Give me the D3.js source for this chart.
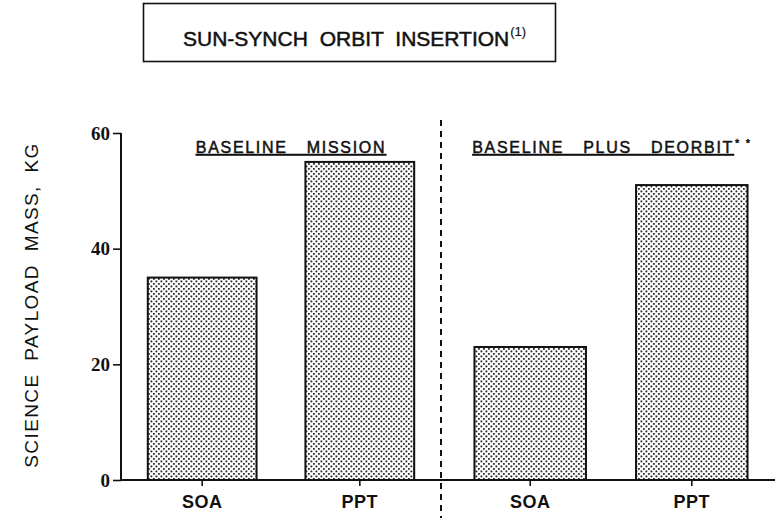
<!DOCTYPE html>
<html>
<head>
<meta charset="utf-8">
<script src="https://cdn.jsdelivr.net/npm/d3@7"></script>
<style>
  body { margin: 0; background: #fff; }
  svg { display: block; }
</style>
</head>
<body>
<svg width="778" height="518"></svg>
<script>
// data
var categories = ["SOA", "PPT"];
var panelTitles = ["BASELINE  MISSION", "BASELINE  PLUS  DEORBIT"];
var panelMarks = ["", "* *"];
var baselineMass = [35, 55];
var deorbitMass = [23, 51];
var yTicks = [0, 20, 40, 60];

var panels = [
  { title: panelTitles[0], mark: panelMarks[0], values: baselineMass },
  { title: panelTitles[1], mark: panelMarks[1], values: deorbitMass }
];

var svg = d3.select("svg");

// dotted fill like the scanned stipple
var defs = svg.append("defs");
var pat = defs.append("pattern")
  .attr("id", "stipple")
  .attr("width", 5)
  .attr("height", 5)
  .attr("patternUnits", "userSpaceOnUse");
pat.append("rect").attr("width", 5).attr("height", 5).attr("fill", "#fff");
pat.append("rect").attr("x", 0.5).attr("y", 0.5).attr("width", 1.8).attr("height", 1.8).attr("fill", "#222");
pat.append("rect").attr("x", 3).attr("y", 3).attr("width", 1.8).attr("height", 1.8).attr("fill", "#333");

// y scale
var y = d3.scaleLinear().domain([0, 60]).range([480, 133]);

// panel x ranges (split by the dashed line)
var axisX = 121, splitX = 441, rightX = 775;
var panelRanges = [[axisX, splitX], [447, rightX]];
var headX = [291, 612];

// title box
svg.append("rect")
  .attr("x", 143.5).attr("y", 3.5)
  .attr("width", 412).attr("height", 58)
  .attr("fill", "none")
  .attr("stroke", "#111")
  .attr("stroke-width", 1.6);

var title = svg.append("text")
  .attr("x", 183).attr("y", 46)
  .style("font-family", "Liberation Sans, Arial, sans-serif")
  .style("font-size", "21px")
  .style("word-spacing", "6px")
  .attr("fill", "#111")
  .attr("stroke", "#111")
  .attr("stroke-width", 0.5);
title.append("tspan").text("SUN-SYNCH  ORBIT  INSERTION");
title.append("tspan").attr("dx", 1).attr("dy", -10).style("font-size", "13px").attr("stroke-width", 0.2).text("(1)");

// y axis
var yAxis = svg.append("g")
  .attr("transform", "translate(" + axisX + ",0)")
  .call(d3.axisLeft(y).tickValues(yTicks).tickSize(8).tickPadding(3));
yAxis.select(".domain").attr("stroke", "#111").attr("stroke-width", 2)
  .attr("d", "M0," + y(60) + "V" + y(0));
yAxis.selectAll(".tick line").attr("stroke", "#111").attr("stroke-width", 1.6);
yAxis.selectAll(".tick text")
  .style("font-family", "Liberation Serif, Times New Roman, serif")
  .style("font-weight", "bold")
  .style("font-size", "19px")
  .attr("fill", "#111");

// y axis title
svg.append("text")
  .attr("transform", "translate(38," + 305 + ") rotate(-90)")
  .attr("text-anchor", "middle")
  .style("font-family", "Liberation Sans, Arial, sans-serif")
  .style("font-size", "19px")
  .style("letter-spacing", "1.4px")
  .style("word-spacing", "6px")
  .attr("fill", "#111")
  .text("SCIENCE PAYLOAD MASS, KG");

// baseline
svg.append("line")
  .attr("x1", axisX).attr("x2", rightX)
  .attr("y1", y(0)).attr("y2", y(0))
  .attr("stroke", "#111").attr("stroke-width", 2);

panels.forEach(function(p, i) {
  var x = d3.scaleBand()
    .domain(categories)
    .range(panelRanges[i])
    .paddingInner(0.31)
    .paddingOuter(0.17);

  var g = svg.append("g").attr("class", "panel");

  g.selectAll("rect.bar")
    .data(p.values)
    .enter()
    .append("rect")
    .attr("class", "bar")
    .attr("x", function(d, j) { return x(categories[j]); })
    .attr("y", function(d) { return y(d); })
    .attr("width", x.bandwidth())
    .attr("height", function(d) { return y(0) - y(d); })
    .attr("fill", "url(#stipple)")
    .attr("stroke", "#111")
    .attr("stroke-width", 2);

  // category ticks and labels
  var xAxis = g.append("g")
    .attr("transform", "translate(0," + y(0) + ")")
    .call(d3.axisBottom(x).tickSize(6).tickPadding(9));
  xAxis.select(".domain").remove();
  xAxis.selectAll(".tick line").attr("stroke", "#111").attr("stroke-width", 1.6);
  xAxis.selectAll(".tick text")
    .style("font-family", "Liberation Sans, Arial, sans-serif")
    .style("font-weight", "bold")
    .style("font-size", "18px")
    .style("letter-spacing", "0.5px")
    .attr("fill", "#111");

  // panel heading, underlined
  var head = g.append("text")
    .attr("x", headX[i]).attr("y", 153)
    .attr("text-anchor", "middle")
    .style("font-family", "Liberation Sans, Arial, sans-serif")
    .style("font-size", "16px")
    .style("letter-spacing", "1.7px")
    .style("word-spacing", "13px")
    .attr("fill", "#111")
    .attr("stroke", "#111")
    .attr("stroke-width", 0.5);
  head.append("tspan").style("text-decoration", "underline").text(p.title);
  if (p.mark) {
    head.append("tspan").attr("dx", 1).attr("dy", -6)
      .style("font-size", "11px").style("word-spacing", "0px")
      .text(p.mark);
  }
});

// dashed divider between the two cases
svg.append("line")
  .attr("x1", splitX).attr("x2", splitX)
  .attr("y1", 120).attr("y2", 518)
  .attr("stroke", "#111")
  .attr("stroke-width", 2)
  .attr("stroke-dasharray", "6,5");
</script>
</body>
</html>
